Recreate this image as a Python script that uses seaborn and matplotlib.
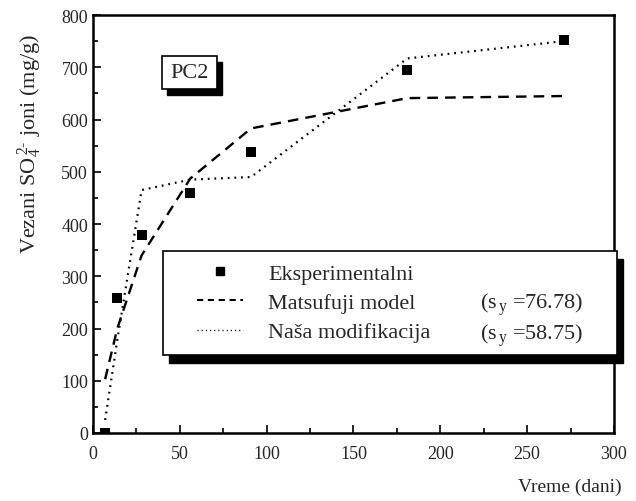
import matplotlib
matplotlib.use("Agg")
import matplotlib.pyplot as plt
from matplotlib.patches import Rectangle
from matplotlib.lines import Line2D
from matplotlib.ticker import MultipleLocator
import seaborn as sns
import pandas as pd

# Experimental sulphate uptake and the two model curves
vreme = [7, 14, 28, 56, 91, 181, 271]
eksperimentalni = [0, 258, 379, 459, 538, 695, 752]
matsufuji = [103, 200, 340, 487, 583, 641, 645]
modifikacija = [25, 178, 465, 485, 490, 717, 750]
sy_matsufuji = 76.78
sy_modifikacija = 58.75

df = pd.DataFrame({"vreme": vreme, "eks": eksperimentalni,
                   "mats": matsufuji, "mod": modifikacija})

sns.set_theme(style="ticks")
plt.rcParams["font.family"] = ["Liberation Serif", "DejaVu Serif"]
plt.rcParams["mathtext.fontset"] = "custom"
plt.rcParams["mathtext.rm"] = "Liberation Serif"
plt.rcParams["mathtext.it"] = "Liberation Serif"

fig = plt.figure(figsize=(6.36, 5.02), dpi=100)
ax = fig.add_axes([0.1462, 0.1355, 0.8192, 0.8325])

sns.lineplot(data=df, x="vreme", y="mats", ax=ax, color="black", lw=1.7,
             linestyle=(0, (4.5, 3.0)))
sns.lineplot(data=df, x="vreme", y="mod", ax=ax, color="black", lw=1.6,
             linestyle=(0, (0.8, 2.2)))
sns.scatterplot(data=df, x="vreme", y="eks", ax=ax, color="black",
                marker="s", s=50, edgecolor="black", linewidth=0, zorder=5)

ax.set_xlim(0, 300)
ax.set_ylim(0, 800)
ax.xaxis.set_major_locator(MultipleLocator(50))
ax.xaxis.set_minor_locator(MultipleLocator(25))
ax.yaxis.set_major_locator(MultipleLocator(100))
ax.yaxis.set_minor_locator(MultipleLocator(50))
ax.tick_params(which="both", direction="in", top=False, right=False,
               color="black", labelsize=13)
ax.tick_params(which="major", length=6, width=1.2)
ax.tick_params(which="minor", length=3.5, width=1.2)
ax.tick_params(axis="x", pad=9)
for sp in ax.spines.values():
    sp.set_visible(True)
    sp.set_linewidth(1.8)
    sp.set_color("black")

ax.set_xlabel("")
ax.set_ylabel(r"Vezani SO$_4^{\,2\text{-}}$ joni (mg/g)", fontsize=16)
ax.yaxis.set_label_coords(-0.0935, 0.695)
fig.text(0.978, 0.012, "Vreme (dani)", ha="right", va="bottom", fontsize=14)

# "PC2" tag with a drop shadow
tag_x0, tag_y0, tag_w, tag_h = 0.1325, 0.824, 0.1055, 0.078
sh = 0.009
ax.add_patch(Rectangle((tag_x0 + sh, tag_y0 - sh * 1.6), tag_w, tag_h,
                       transform=ax.transAxes, facecolor="black",
                       edgecolor="black", zorder=6, clip_on=False))
ax.add_patch(Rectangle((tag_x0, tag_y0), tag_w, tag_h, transform=ax.transAxes,
                       facecolor="white", edgecolor="black", lw=1.2,
                       zorder=7, clip_on=False))
ax.text(tag_x0 + tag_w / 2, tag_y0 + tag_h / 2, "PC2", transform=ax.transAxes,
        ha="center", va="center", fontsize=16, zorder=8)

# Legend box with drop shadow
bx0, by0, bw, bh = 0.134, 0.1866, 0.872, 0.2488
ax.add_patch(Rectangle((bx0 + 0.0115, by0 - 0.019), bw, bh,
                       transform=ax.transAxes, facecolor="black",
                       edgecolor="black", zorder=8, clip_on=False))
ax.add_patch(Rectangle((bx0, by0), bw, bh, transform=ax.transAxes,
                       facecolor="white", edgecolor="black", lw=1.2,
                       zorder=9, clip_on=False))

handles = [
    Line2D([], [], color="black", marker="s", ms=6, lw=0),
    Line2D([], [], color="black", lw=1.5, linestyle=(0, (3.0, 2.2))),
    Line2D([], [], color="black", lw=1.0, linestyle=(0, (0.8, 2.2))),
]
labels = ["Eksperimentalni", "Matsufuji model", "Naša modifikacija"]
leg = ax.legend(handles, labels, loc="upper left",
                bbox_to_anchor=(0.1996, 0.406), frameon=False, fontsize=16,
                handlelength=2.07, handletextpad=1.13, labelspacing=0.39,
                borderpad=0, borderaxespad=0)
leg.set_zorder(10)

ax.text(0.743, 0.309, r"(s$_{\,\mathrm{y}}$ =%.2f)" % sy_matsufuji,
        transform=ax.transAxes, fontsize=16, va="center", ha="left", zorder=10)
ax.text(0.743, 0.2354, r"(s$_{\,\mathrm{y}}$ =%.2f)" % sy_modifikacija,
        transform=ax.transAxes, fontsize=16, va="center", ha="left", zorder=10)

fig.savefig("out.png", dpi=100)
